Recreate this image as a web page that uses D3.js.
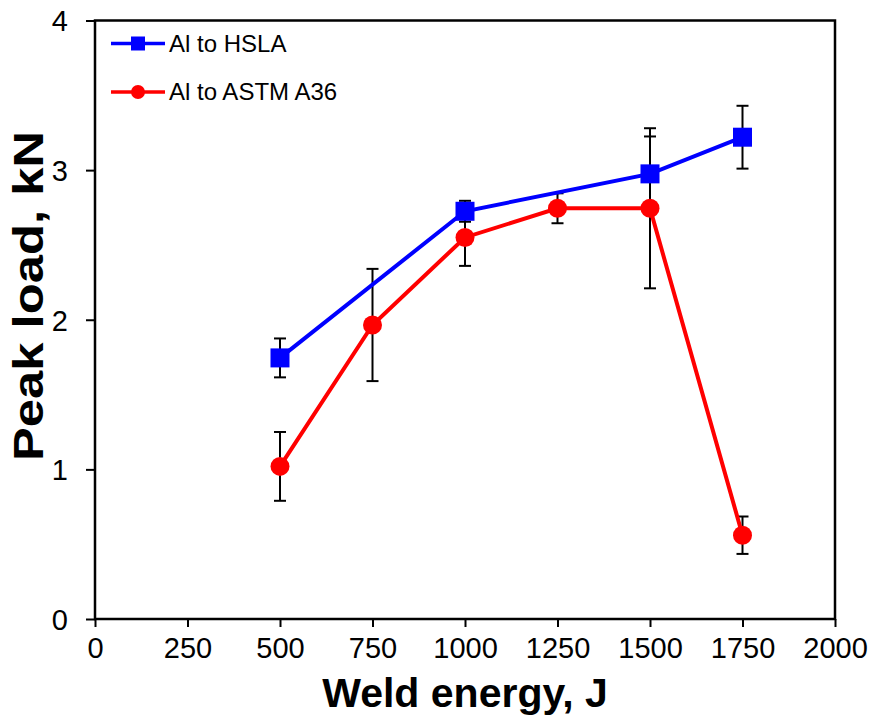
<!DOCTYPE html>
<html>
<head>
<meta charset="utf-8">
<script src="https://cdn.jsdelivr.net/npm/d3@7"></script>
<style>
  body { margin: 0; background: #fff; }
  text { font-family: "Liberation Sans", Arial, sans-serif; }
</style>
</head>
<body>
<div id="chart"></div>
<script>
// weld energy (J) for each series
const energyHSLA = [500, 1000, 1500, 1750];
const loadHSLA   = [1.745, 2.725, 2.975, 3.22];
const errHSLA    = [0.13, 0.07, 0.25, 0.21];

const energyA36 = [500, 750, 1000, 1250, 1500, 1750];
const loadA36   = [1.02, 1.965, 2.55, 2.745, 2.745, 0.56];
const errA36    = [0.23, 0.375, 0.19, 0.1, 0.535, 0.125];

const xTicks = [0, 250, 500, 750, 1000, 1250, 1500, 1750, 2000];
const yTicks = [0, 1, 2, 3, 4];

const seriesNames = ['Al to HSLA', 'Al to ASTM A36'];

const width = 875, height = 719;
const margin = {top: 20.5, right: 40, bottom: 100, left: 95};

const svg = d3.select('#chart').append('svg')
  .attr('width', width)
  .attr('height', height);

const xScale = d3.scaleLinear().domain([0, 2000]).range([margin.left, width - margin.right]);
const yScale = d3.scaleLinear().domain([0, 4]).range([height - margin.bottom, margin.top]);

const series = [
  {name: seriesNames[0], color: '#0000ff', shape: 'square',
   data: energyHSLA.map((e, i) => ({x: e, y: loadHSLA[i], err: errHSLA[i]}))},
  {name: seriesNames[1], color: '#ff0000', shape: 'circle',
   data: energyA36.map((e, i) => ({x: e, y: loadA36[i], err: errA36[i]}))}
];

// axes
const xAxis = svg.append('g')
  .attr('transform', `translate(0,${yScale(0)})`)
  .call(d3.axisBottom(xScale).tickValues(xTicks).tickFormat(d3.format('d'))
    .tickSize(8).tickPadding(10).tickSizeOuter(0));
const yAxis = svg.append('g')
  .attr('transform', `translate(${xScale(0)},0)`)
  .call(d3.axisLeft(yScale).tickValues(yTicks).tickFormat(d3.format('d'))
    .tickSize(9).tickPadding(18).tickSizeOuter(0));

[xAxis, yAxis].forEach(ax => {
  ax.select('.domain').remove();
  ax.selectAll('line').attr('stroke', '#000').attr('stroke-width', 2);
  ax.selectAll('text').attr('fill', '#000').style('font-size', '29px');
});
yAxis.selectAll('text').attr('dy', '0.36em');

// frame
svg.append('rect')
  .attr('x', xScale(0)).attr('y', yScale(4))
  .attr('width', xScale(2000) - xScale(0))
  .attr('height', yScale(0) - yScale(4))
  .attr('fill', 'none').attr('stroke', '#000').attr('stroke-width', 2.5);

// error bars
const errG = svg.append('g');
series.forEach(s => {
  s.data.forEach(d => {
    const cx = xScale(d.x);
    const y1 = yScale(d.y + d.err), y2 = yScale(d.y - d.err);
    errG.append('line').attr('x1', cx).attr('x2', cx).attr('y1', y1).attr('y2', y2)
      .attr('stroke', '#000').attr('stroke-width', 2);
    [y1, y2].forEach(yy => {
      errG.append('line').attr('x1', cx - 6).attr('x2', cx + 6).attr('y1', yy).attr('y2', yy)
        .attr('stroke', '#000').attr('stroke-width', 2);
    });
  });
});

// lines and markers
const line = d3.line().x(d => xScale(d.x)).y(d => yScale(d.y));
series.forEach(s => {
  svg.append('path').datum(s.data)
    .attr('d', line)
    .attr('fill', 'none').attr('stroke', s.color).attr('stroke-width', 4);
});
series.forEach(s => {
  if (s.shape === 'square') {
    svg.selectAll(null).data(s.data).join('rect')
      .attr('x', d => xScale(d.x) - 9.5).attr('y', d => yScale(d.y) - 9.5)
      .attr('width', 19).attr('height', 19).attr('fill', s.color);
  } else {
    svg.selectAll(null).data(s.data).join('circle')
      .attr('cx', d => xScale(d.x)).attr('cy', d => yScale(d.y))
      .attr('r', 9.5).attr('fill', s.color);
  }
});

// legend
const legend = svg.append('g');
series.forEach((s, i) => {
  const ly = 43.5 + i * 48.5;
  legend.append('line').attr('x1', 111).attr('x2', 165).attr('y1', ly).attr('y2', ly)
    .attr('stroke', s.color).attr('stroke-width', 3.5);
  if (s.shape === 'square') {
    legend.append('rect').attr('x', 138 - 7).attr('y', ly - 7).attr('width', 14).attr('height', 14).attr('fill', s.color);
  } else {
    legend.append('circle').attr('cx', 138).attr('cy', ly).attr('r', 7).attr('fill', s.color);
  }
  legend.append('text').attr('x', 169).attr('y', ly).attr('dy', '0.35em')
    .style('font-size', '24px').attr('fill', '#000').text(s.name);
});

// axis titles
svg.append('text')
  .attr('x', 465).attr('y', 707)
  .attr('text-anchor', 'middle')
  .style('font-size', '41px').style('font-weight', 'bold')
  .text('Weld energy, J');

svg.append('text')
  .attr('transform', 'translate(43,296) rotate(-90)')
  .attr('text-anchor', 'middle')
  .attr('textLength', 330).attr('lengthAdjust', 'spacingAndGlyphs')
  .style('font-size', '42px').style('font-weight', 'bold')
  .text('Peak load, kN');
</script>
</body>
</html>
